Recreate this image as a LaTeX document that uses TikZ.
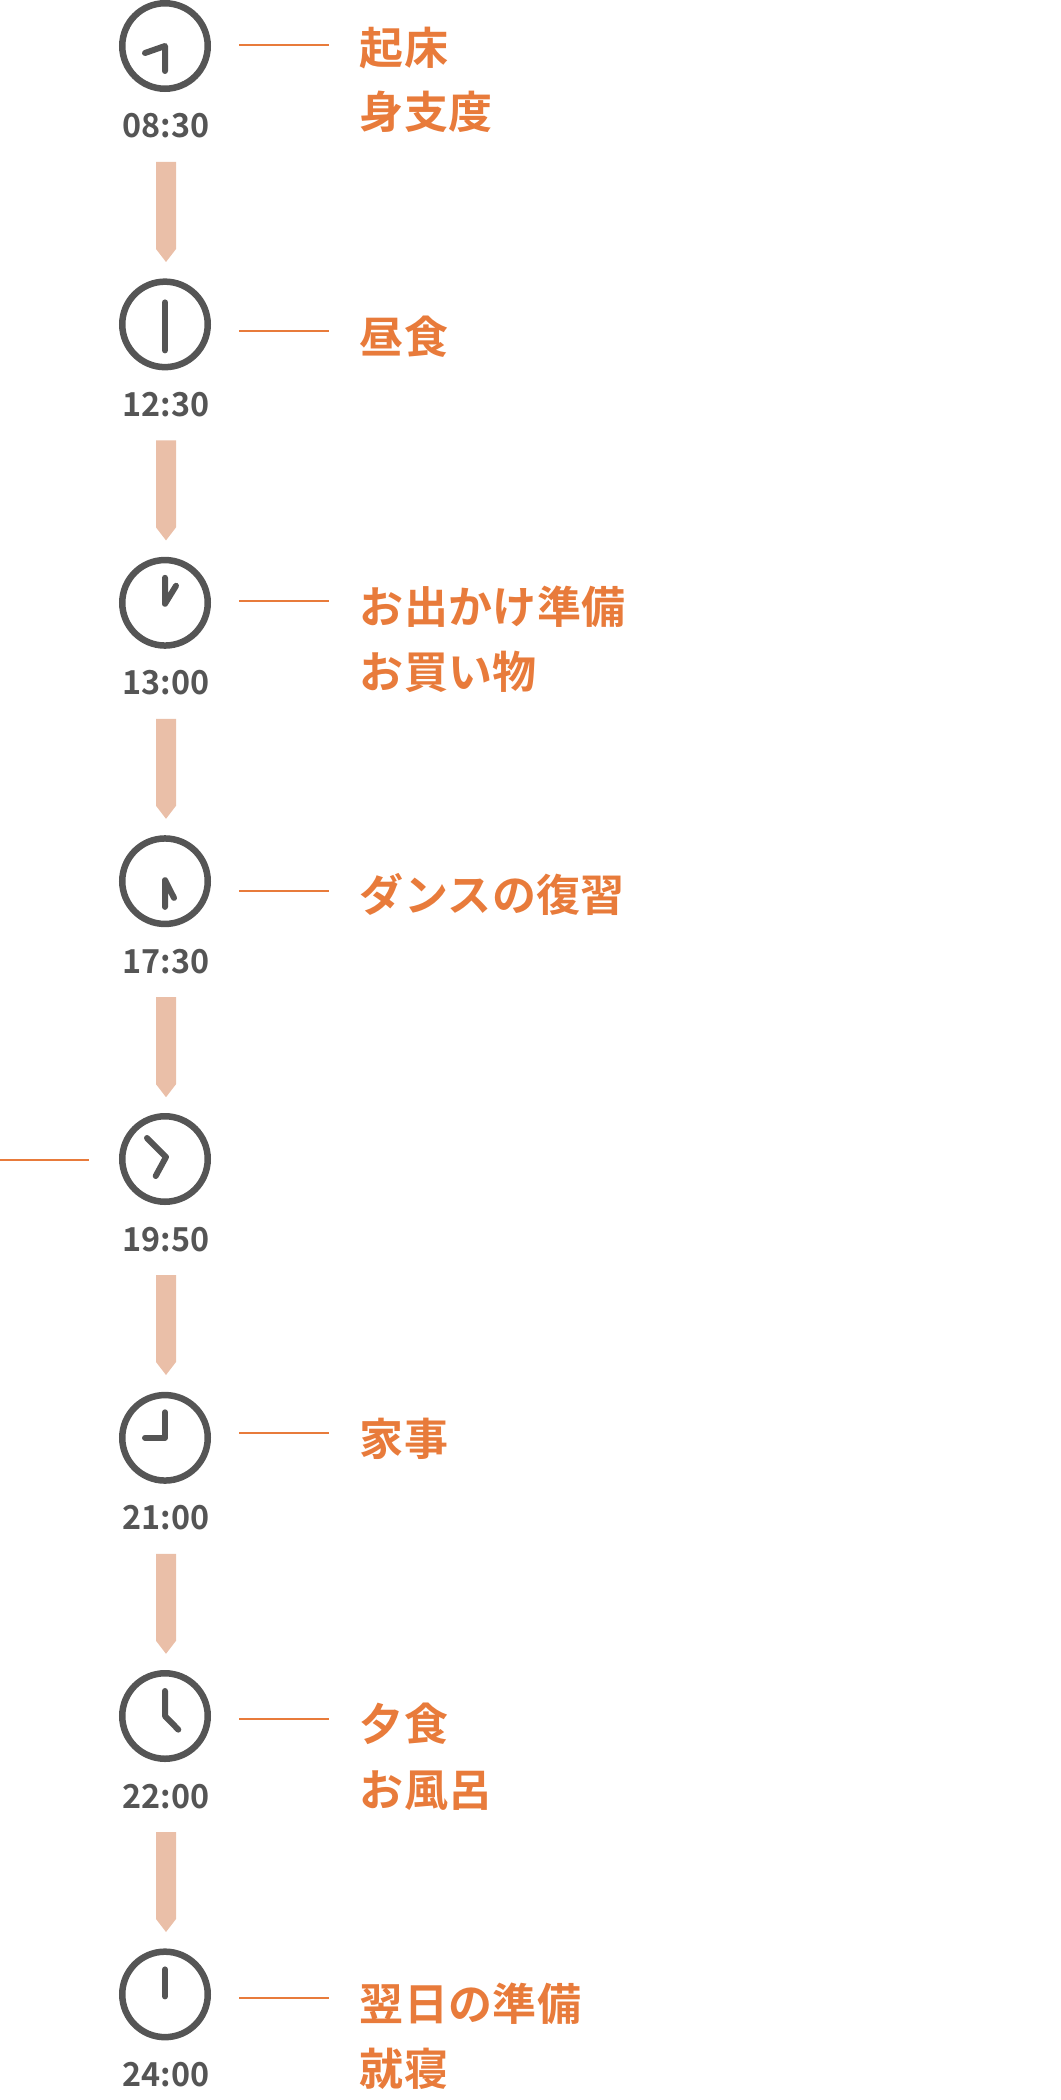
\documentclass[tikz,border=0pt]{standalone}
\usetikzlibrary{calc}
\usepackage{fontspec}
\newfontfamily\jpb[LetterSpace=1.0]{Noto Sans CJK JP Bold}
\newfontfamily\jpm[FakeStretch=0.98]{Noto Sans CJK JP Bold}
\definecolor{dark}{HTML}{555555}
\definecolor{orange1}{HTML}{E87B3B}
\definecolor{peach}{HTML}{EABFA8}
\tikzset{
  clock/.style={circle,draw=dark,line width=6.5pt,minimum size=85.5pt,inner sep=0pt,outer sep=0pt},
  hand/.style={draw=dark,line width=6pt,line cap=round,line join=round},
  timelabel/.style={anchor=base,inner sep=0pt,text=dark,font=\jpm\fontsize{33}{33}\selectfont},
  actlabel/.style={anchor=base west,inner sep=0pt,text=orange1,font=\jpb\fontsize{44}{44}\selectfont},
  leader/.style={draw=orange1,line width=2pt},
  flow/.style={fill=peach,draw=none},
}
\begin{document}
\begin{tikzpicture}[x=1pt,y=-1pt]
\useasboundingbox (0,0) rectangle (1060,2100);
% clocks, time labels
\foreach \i/\cy/\t in {1/46/08:30,2/324.4/12:30,3/602.8/13:00,4/881.2/17:30,5/1159/19:50,6/1437.8/21:00,7/1716/22:00,8/1994.4/24:00}{
  \node[clock] (c\i) at (165,\cy) {};
  \node[timelabel] (t\i) at (166,\cy+92) {\t};
}
% flow arrows
\foreach \i/\cy in {1/46,2/324.4,3/602.8,4/881.2,5/1159,6/1437.8,7/1716}{
  \fill[flow] (156,\cy+116) -- (176,\cy+116) -- (176,\cy+203) -- (166,\cy+216) -- (156,\cy+203) -- cycle;
}
% hands
\draw[hand] ($(c1)+(-20,7)$) -- (c1.center) -- ($(c1)+(0,25)$);
\draw[hand] ($(c2)+(0,-22)$) -- ($(c2)+(0,26)$);
\draw[hand] ($(c3)+(0,-25)$) -- ($(c3)+(0,1)$) -- ($(c3)+(11,-17)$);
\draw[hand] ($(c4)+(0,25.7)$) -- ($(c4)+(0,-1)$) -- ($(c4)+(9,16.7)$);
\draw[hand] ($(c5)+(-18,-21)$) -- ($(c5)+(1,-2)$) -- ($(c5)+(-9.3,17)$);
\draw[hand] ($(c6)+(0,-25.5)$) -- (c6.center) -- ($(c6)+(-20,0)$);
\draw[hand] ($(c7)+(0,-25)$) -- (c7.center) -- ($(c7)+(13.3,13.6)$);
\draw[hand] ($(c8)+(0,-25)$) -- ($(c8)+(0,2)$);
% leaders
\foreach \i/\xa/\xb/\y in {1/239/329/45,2/239/329/331,3/239/329/601,4/239/329/890.5,5/0/89/1159.5,6/239/329/1433,7/239/329/1719,8/239/329/1998}{
  \coordinate (la\i) at (\xa,\y);
  \coordinate (lb\i) at (\xb,\y);
  \draw[leader] (la\i) -- (lb\i);
}
% activity labels
\node[actlabel] (a1) at (359.5,47+17.5) {起床};
\node[actlabel] (a1b) at (359.5,111+17.5) {身支度};
\node[actlabel] (a2) at (359.5,336+17.5) {昼食};
\node[actlabel] (a3) at (359.5,606+17.5) {お出かけ準備};
\node[actlabel] (a3b) at (359.5,671+17.5) {お買い物};
\node[actlabel] (a4) at (359.5,894+17.5) {ダンスの復習};
\node[actlabel] (a6) at (359.5,1438+17.5) {家事};
\node[actlabel] (a7) at (359.5,1723+17.5) {夕食};
\node[actlabel] (a7b) at (359.5,1789+17.5) {お風呂};
\node[actlabel] (a8) at (359.5,2003+17.5) {翌日の準備};
\node[actlabel] (a8b) at (359.5,2068+17.5) {就寝};
\end{tikzpicture}
\end{document}
